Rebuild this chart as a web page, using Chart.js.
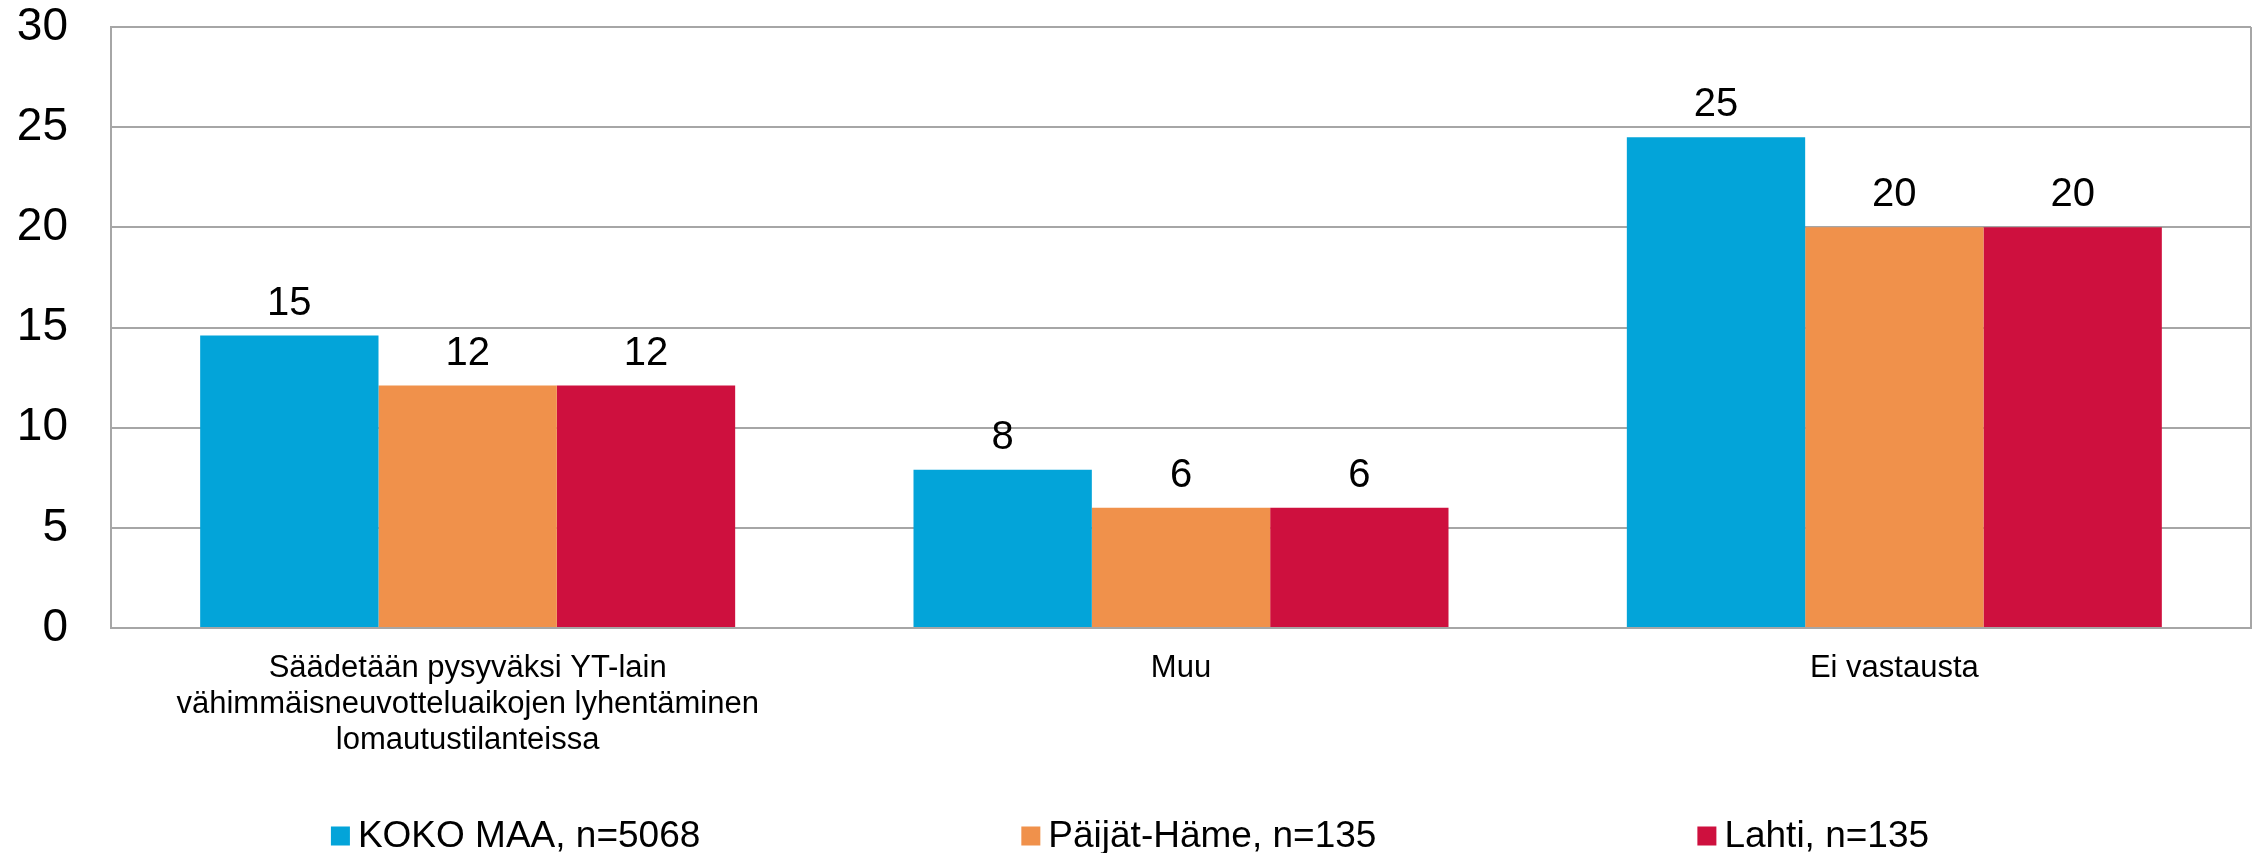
<!DOCTYPE html>
<html>
<head>
<meta charset="utf-8">
<style>
  html, body { margin: 0; padding: 0; background: #ffffff; }
  #wrap { width: 2260px; height: 853px; position: relative; }
</style>
<script src="https://cdn.jsdelivr.net/npm/chart.js@4.4.1/dist/chart.umd.min.js"></script>
</head>
<body>
<div id="wrap"><canvas id="c" width="2260" height="853"></canvas></div>
<script>
const categories = [
  ["Säädetään pysyväksi YT-lain", "vähimmäisneuvotteluaikojen lyhentäminen", "lomautustilanteissa"],
  "Muu",
  "Ei vastausta"
];
const seriesNames = ["KOKO MAA, n=5068", "Päijät-Häme, n=135", "Lahti, n=135"];
const kokoMaa = [14.6, 7.9, 24.5];
const paijatHame = [12.1, 6.0, 20.0];
const lahti = [12.1, 6.0, 20.0];
const yTicks = [0, 5, 10, 15, 20, 25, 30];
const colors = ["#03A4D9", "#F0914B", "#CE103E"];

const FONT = "'Liberation Sans', Arial, Helvetica, sans-serif";

const frameAndLabels = {
  id: 'frameAndLabels',
  afterDatasetsDraw(chart) {
    const ctx = chart.ctx;
    const a = chart.chartArea;
    ctx.save();
    ctx.strokeStyle = '#A6A6A6';
    ctx.lineWidth = 2;
    ctx.beginPath();
    ctx.moveTo(a.right, a.top);
    ctx.lineTo(a.right, a.bottom);
    ctx.stroke();
    ctx.fillStyle = '#000000';
    ctx.font = '40px ' + FONT;
    ctx.textAlign = 'center';
    ctx.textBaseline = 'alphabetic';
    chart.data.datasets.forEach((ds, i) => {
      const meta = chart.getDatasetMeta(i);
      meta.data.forEach((bar, j) => {
        ctx.fillText(String(Math.round(ds.data[j])), bar.x, bar.y - 21);
      });
    });
    ctx.restore();
  },
  afterDraw(chart) {
    const ctx = chart.ctx;
    ctx.save();
    ctx.font = '37px ' + FONT;
    ctx.textBaseline = 'middle';
    ctx.textAlign = 'left';
    const box = 19, gapText = 8, gapItem = 321;
    const items = chart.data.datasets.map(ds => ({
      label: ds.label, color: ds.backgroundColor,
      w: box + gapText + ctx.measureText(ds.label).width
    }));
    const total = items.reduce((s, it) => s + it.w, 0) + gapItem * (items.length - 1);
    let x = chart.width / 2 - total / 2;
    const cy = 836;
    items.forEach(it => {
      ctx.fillStyle = it.color;
      ctx.fillRect(x, cy - box / 2, box, box);
      ctx.fillStyle = '#000000';
      ctx.fillText(it.label, x + box + gapText, cy + 1);
      x += it.w + gapItem;
    });
    ctx.restore();
  }
};

new Chart(document.getElementById('c'), {
  type: 'bar',
  data: {
    labels: categories,
    datasets: [
      { label: seriesNames[0], data: kokoMaa, backgroundColor: colors[0] },
      { label: seriesNames[1], data: paijatHame, backgroundColor: colors[1] },
      { label: seriesNames[2], data: lahti, backgroundColor: colors[2] }
    ]
  },
  options: {
    responsive: false,
    animation: false,
    devicePixelRatio: 1,
    layout: { autoPadding: false, padding: { left: 17, right: 9, top: 27, bottom: 97 } },
    datasets: { bar: { categoryPercentage: 0.75, barPercentage: 1.0, borderWidth: 0 } },
    plugins: { legend: { display: false }, tooltip: { enabled: false } },
    scales: {
      x: {
        afterFit(scale) { scale.height = 128; scale.paddingLeft = 0; scale.paddingRight = 0; },
        grid: { display: false, drawTicks: false },
        border: { display: true, color: '#A6A6A6', width: 2 },
        ticks: { color: '#000000', font: { family: FONT, size: 31, lineHeight: 1.17 }, padding: 22, maxRotation: 0, autoSkip: false }
      },
      y: {
        min: 0, max: 30,
        afterBuildTicks(scale) { scale.ticks = yTicks.map(v => ({ value: v })); },
        afterFit(scale) { scale.width = 94; scale.paddingTop = 0; scale.paddingBottom = 0; },
        grid: { color: '#A6A6A6', lineWidth: 2, drawTicks: false },
        border: { display: true, color: '#A6A6A6', width: 2 },
        ticks: { color: '#000000', font: { family: FONT, size: 46 }, padding: 43 }
      }
    }
  },
  plugins: [frameAndLabels]
});
</script>
</body>
</html>
